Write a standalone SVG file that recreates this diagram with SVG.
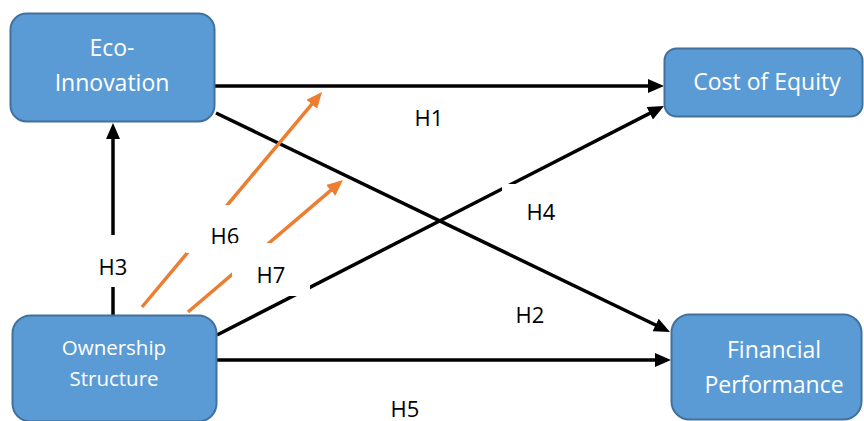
<svg xmlns="http://www.w3.org/2000/svg" width="864" height="421" viewBox="0 0 864 421">
<style>
.node{fill:#5B9BD5;stroke:#41719C;stroke-width:2}
.nt{font-family:"Open Sans","Liberation Sans",sans-serif;fill:#fff;text-anchor:middle}
.lbl{font-family:"Open Sans","Liberation Sans",sans-serif;fill:#000;font-size:22px;text-anchor:middle}
.blk{stroke:#000;stroke-width:3.5;fill:none}
.org{stroke:#ED7D31;stroke-width:3.5;fill:none}
.mask{fill:#fff}
</style>
<defs>
<marker id="ab" viewBox="0 0 16 14" refX="8" refY="7" markerWidth="16" markerHeight="14" markerUnits="userSpaceOnUse" orient="auto"><path d="M0,0 L16,7 L0,14 Z" fill="#000"/></marker>
<marker id="ao" viewBox="0 0 16 14" refX="8" refY="7" markerWidth="16" markerHeight="14" markerUnits="userSpaceOnUse" orient="auto"><path d="M0,0 L16,7 L0,14 Z" fill="#ED7D31"/></marker>
</defs>
<g id="connectors">
<line class="blk" x1="215" y1="86" x2="656" y2="86" marker-end="url(#ab)"/>
<line class="blk" x1="216" y1="113" x2="662.8" y2="328.5" marker-end="url(#ab)"/>
<line class="blk" x1="217" y1="335" x2="656.9" y2="109.6" marker-end="url(#ab)"/>
<line class="blk" x1="217" y1="360" x2="663" y2="360" marker-end="url(#ab)"/>
<line class="blk" x1="113" y1="315" x2="113" y2="131" marker-end="url(#ab)"/>
<line class="org" x1="142" y1="307" x2="316.9" y2="98.1" marker-end="url(#ao)"/>
<line class="org" x1="188" y1="312" x2="336.9" y2="185.2" marker-end="url(#ao)"/>
</g>
<g id="labels">
<rect class="mask" x="91" y="235" width="44" height="52"/>
<text class="lbl" x="113" y="275">H3</text>
<rect class="mask" x="186" y="205" width="78" height="48"/>
<text class="lbl" x="225" y="244">H6</text>
<rect class="mask" x="232" y="243" width="78" height="53"/>
<text class="lbl" x="271" y="283">H7</text>
<rect class="mask" x="502" y="184" width="78" height="52"/>
<text class="lbl" x="541" y="220">H4</text>
<text class="lbl" x="429" y="126">H1</text>
<text class="lbl" x="530" y="323">H2</text>
<text class="lbl" x="405" y="417">H5</text>
</g>
<g id="eco">
<rect class="node" x="10.5" y="13.5" width="204" height="108" rx="16"/>
<text class="nt" x="112" y="56" font-size="23">Eco-</text>
<text class="nt" x="112" y="91" font-size="23">Innovation</text>
</g>
<g id="cost">
<rect class="node" x="664.5" y="48.5" width="198" height="68" rx="12"/>
<text class="nt" x="767" y="90" font-size="23">Cost of Equity</text>
</g>
<g id="ownership">
<rect class="node" x="12.5" y="315.5" width="204" height="106" rx="18"/>
<text class="nt" x="114" y="355" font-size="20.5">Ownership</text>
<text class="nt" x="114" y="386" font-size="20.5">Structure</text>
</g>
<g id="financial">
<rect class="node" x="671.5" y="314.5" width="190" height="105" rx="18"/>
<text class="nt" x="774" y="358" font-size="23">Financial</text>
<text class="nt" x="774" y="393" font-size="23">Performance</text>
</g>
</svg>
